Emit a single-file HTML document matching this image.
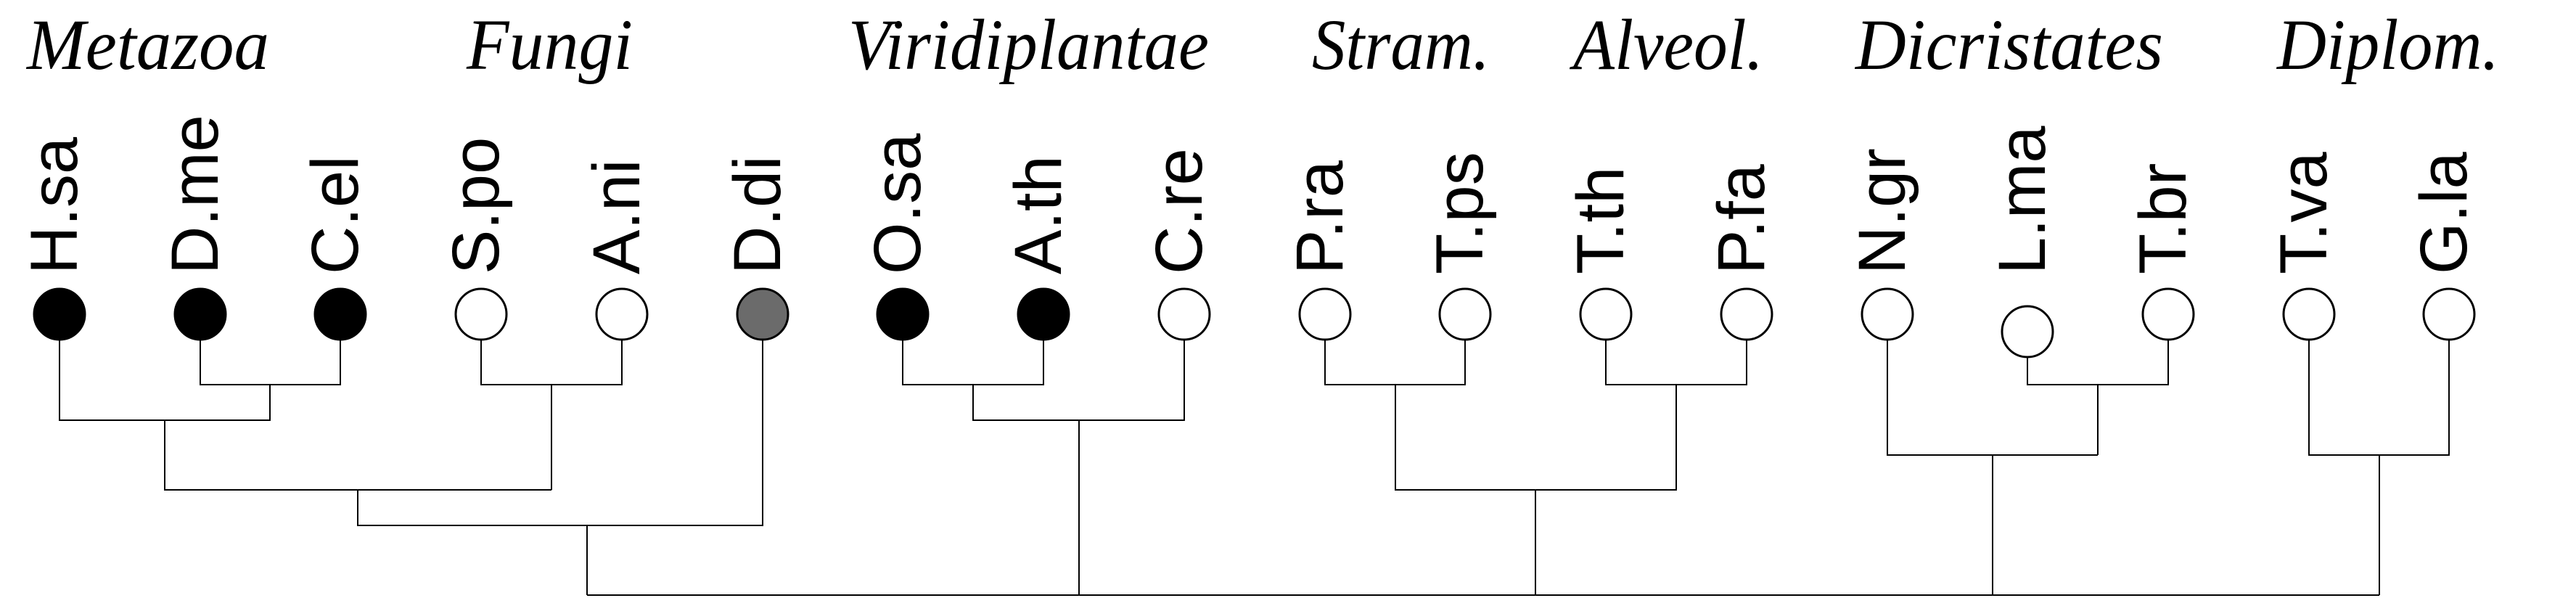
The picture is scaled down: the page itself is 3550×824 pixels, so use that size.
<!DOCTYPE html>
<html><head><meta charset="utf-8"><style>html,body{margin:0;padding:0;background:#fff}svg{display:block}</style></head>
<body>
<svg width="3550" height="824" viewBox="0 0 3550 824" xmlns="http://www.w3.org/2000/svg">
<g font-family="'Liberation Serif', serif" font-style="italic" font-size="100" fill="#000">
<text x="37" y="95" textLength="334" lengthAdjust="spacingAndGlyphs">Metazoa</text>
<text x="643" y="95" textLength="229" lengthAdjust="spacingAndGlyphs">Fungi</text>
<text x="1169" y="95" textLength="497" lengthAdjust="spacingAndGlyphs">Viridiplantae</text>
<text x="1808" y="95" textLength="245" lengthAdjust="spacingAndGlyphs">Stram.</text>
<text x="2168" y="95" textLength="262" lengthAdjust="spacingAndGlyphs">Alveol.</text>
<text x="2557" y="95" textLength="424" lengthAdjust="spacingAndGlyphs">Dicristates</text>
<text x="3138" y="95" textLength="306" lengthAdjust="spacingAndGlyphs">Diplom.</text>
</g>
<g font-family="'Liberation Sans', sans-serif" font-size="92" fill="#000">
<text transform="translate(106,378) rotate(-90)">H.sa</text>
<text transform="translate(300,378) rotate(-90)">D.me</text>
<text transform="translate(493,378) rotate(-90)">C.el</text>
<text transform="translate(687,378) rotate(-90)">S.po</text>
<text transform="translate(881,378) rotate(-90)">A.ni</text>
<text transform="translate(1075,378) rotate(-90)">D.di</text>
<text transform="translate(1268,378) rotate(-90)">O.sa</text>
<text transform="translate(1462,378) rotate(-90)">A.th</text>
<text transform="translate(1656,378) rotate(-90)">C.re</text>
<text transform="translate(1850,378) rotate(-90)">P.ra</text>
<text transform="translate(2043,378) rotate(-90)">T.ps</text>
<text transform="translate(2237,378) rotate(-90)">T.th</text>
<text transform="translate(2431,378) rotate(-90)">P.fa</text>
<text transform="translate(2625,378) rotate(-90)">N.gr</text>
<text transform="translate(2818,378) rotate(-90)">L.ma</text>
<text transform="translate(3012,378) rotate(-90)">T.br</text>
<text transform="translate(3206,378) rotate(-90)">T.va</text>
<text transform="translate(3399,378) rotate(-90)">G.la</text>
</g>
<g fill="none" stroke="#000" stroke-width="2">
<path d="M82 468V579H372V530M276 468V530H469V468"/>
<path d="M663 468V530H857V468M760 530V675M227 579V675H760"/>
<path d="M493 675V724H1051V468M809 724V820"/>
<path d="M1244 468V530H1438V468M1341 530V579H1632V468M1487 579V820"/>
<path d="M1826 468V530H2019V468M2213 468V530H2407V468M1923 530V675H2310V530M2116 675V820"/>
<path d="M2794 492V530H2988V468M2891 530V627M2601 468V627H2891M2746 627V820"/>
<path d="M3182 468V627H3375V468M3279 627V820"/>
<path d="M809 820H3279"/>
</g>
<g stroke="#000" stroke-width="3">
<ellipse cx="82" cy="433" rx="35" ry="35" fill="#000"/>
<ellipse cx="276" cy="433" rx="35" ry="35" fill="#000"/>
<ellipse cx="469" cy="433" rx="35" ry="35" fill="#000"/>
<ellipse cx="663" cy="433" rx="35" ry="35" fill="#fff"/>
<ellipse cx="857" cy="433" rx="35" ry="35" fill="#fff"/>
<ellipse cx="1051" cy="433" rx="35" ry="35" fill="#6b6b6b"/>
<ellipse cx="1244" cy="433" rx="35" ry="35" fill="#000"/>
<ellipse cx="1438" cy="433" rx="35" ry="35" fill="#000"/>
<ellipse cx="1632" cy="433" rx="35" ry="35" fill="#fff"/>
<ellipse cx="1826" cy="433" rx="35" ry="35" fill="#fff"/>
<ellipse cx="2019" cy="433" rx="35" ry="35" fill="#fff"/>
<ellipse cx="2213" cy="433" rx="35" ry="35" fill="#fff"/>
<ellipse cx="2407" cy="433" rx="35" ry="35" fill="#fff"/>
<ellipse cx="2601" cy="433" rx="35" ry="35" fill="#fff"/>
<ellipse cx="2794" cy="457" rx="35" ry="35" fill="#fff"/>
<ellipse cx="2988" cy="433" rx="35" ry="35" fill="#fff"/>
<ellipse cx="3182" cy="433" rx="35" ry="35" fill="#fff"/>
<ellipse cx="3375" cy="433" rx="35" ry="35" fill="#fff"/>
</g>
</svg>
</body></html>
